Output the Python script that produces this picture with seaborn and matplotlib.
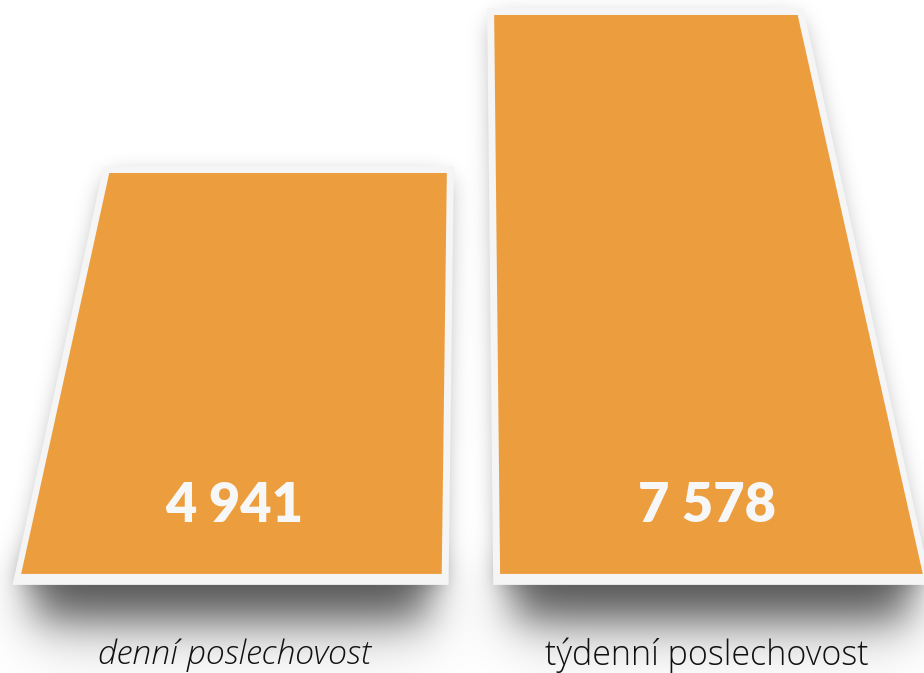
import numpy as np
import pandas as pd
import matplotlib
matplotlib.use("Agg")
import matplotlib.pyplot as plt
import seaborn as sns
from matplotlib.patches import Polygon
from matplotlib.path import Path
from matplotlib.transforms import blended_transform_factory

# data
categories = ["denní poslechovost", "týdenní poslechovost"]
values = [4941, 7578]
value_labels = ["4 941", "7 578"]
label_styles = ["italic", "normal"]

# styling
ORANGE = "#ec9e3f"
FRAME = "#f5f5f5"
BASE = -1750  # bars stand on a pedestal below zero (pseudo perspective)
# trapezoid offsets as fraction of bar width: top-left, top-right, bottom-left, bottom-right
SKEW = [(0.207, 0.0, 0.0, -0.012), (0.0, -0.287, 0.014, 0.007)]

W, H = 924, 673

sns.set_theme(style="white")
fig = plt.figure(figsize=(W / 100, H / 100), dpi=100)
ax = fig.add_axes([0, 0, 1, 1])
df = pd.DataFrame({"kategorie": categories, "hodnota": values})
sns.barplot(data=df, x="kategorie", y="hodnota", width=0.9, color=ORANGE,
            saturation=1, ax=ax)
ax.set_xlim(-0.4947, 1.4588)
ax.set_ylim(-3403, 7828)
ax.axis("off")

px = (ax.get_ylim()[1] - ax.get_ylim()[0]) / H  # data units per pixel (y)


def blur(img, sigma):
    r = int(3 * sigma)
    k = np.exp(-0.5 * (np.arange(-r, r + 1) / sigma) ** 2)
    k /= k.sum()
    img = np.pad(img, r, mode="constant")
    img = np.apply_along_axis(lambda m: np.convolve(m, k, mode="same"), 0, img)
    img = np.apply_along_axis(lambda m: np.convolve(m, k, mode="same"), 1, img)
    return img[r:-r, r:-r]


yy, xx = np.mgrid[0:H, 0:W]
pts = np.column_stack([xx.ravel() + 0.5, yy.ravel() + 0.5])


def mask_of(verts_px):
    return Path(verts_px).contains_points(pts).reshape(H, W).astype(float)


def to_px(verts):
    d = ax.transData.transform(verts)
    d[:, 1] = H - d[:, 1]
    return d


def add_shadow(acc, m, alpha):
    return 1 - (1 - acc) * (1 - alpha * m)


rects = sorted(ax.patches, key=lambda p: p.get_x())
shadow = np.zeros((H, W))
centers = []
for rect, sk in zip(rects, SKEW):
    x0, w, top = rect.get_x(), rect.get_width(), rect.get_height()
    tl, tr, bl, br = sk
    verts = [(x0 + bl * w, BASE), (x0 + w + br * w, BASE),
             (x0 + w + tr * w, top), (x0 + tl * w, top)]
    rect.set_visible(False)
    centers.append(x0 + w / 2)

    outer = list(verts)
    outer[0] = (verts[0][0], BASE - 4 * px)
    outer[1] = (verts[1][0], BASE - 4 * px)
    ax.add_patch(Polygon(outer, closed=True, facecolor=FRAME, edgecolor=FRAME,
                         lw=10, joinstyle="miter", zorder=2))
    ax.add_patch(Polygon(verts, closed=True, facecolor=ORANGE, edgecolor="none",
                         zorder=3))

    # soft drop shadow around the frame
    op = to_px(outer)
    soft = mask_of(op + np.array([0, 6]))
    shadow = add_shadow(shadow, blur(soft, 12), 0.42)
    # heavy shadow under the bottom edge
    xl, xr = op[0, 0] + 14, op[1, 0] - 14
    yb = op[0, 1] + 7
    band = mask_of([(xl, yb - 20), (xr, yb - 20), (xr, yb + 32), (xl, yb + 32)])
    shadow = add_shadow(shadow, blur(band, 20), 0.62)
    wide = mask_of([(xl, yb), (xr, yb), (xr, yb + 55), (xl, yb + 55)])
    shadow = add_shadow(shadow, blur(wide, 32), 0.20)

rgba = np.zeros((H, W, 4))
rgba[..., 3] = np.clip(shadow, 0, 1)
ax.imshow(rgba, extent=(*ax.get_xlim(), *ax.get_ylim()), origin="upper",
          aspect="auto", zorder=1, interpolation="bilinear")
ax.set_xlim(-0.4947, 1.4588)
ax.set_ylim(-3403, 7828)

trans = blended_transform_factory(ax.transData, fig.transFigure)
for cx, lab in zip(centers, value_labels):
    ax.text(cx, 1 - 506 / H, lab, transform=trans, ha="center", va="center",
            color="#f7f7f7", fontsize=39, fontweight="heavy", family="Lato",
            zorder=4)
for cx, cat, st in zip(centers, categories, label_styles):
    ax.text(cx, 1 - 655 / H, cat, transform=trans, ha="center", va="center",
            color="#111111", fontsize=24.5, fontweight=300, style=st,
            family="Open Sans", zorder=4)

fig.savefig("out.png", dpi=100)
